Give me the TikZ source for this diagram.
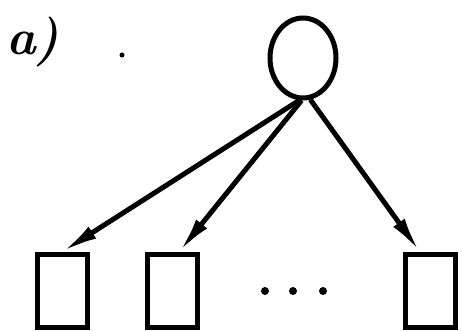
\documentclass[tikz,border=0pt]{standalone}
\usepackage{tikz}
\usetikzlibrary{arrows.meta,shapes.geometric}

\begin{document}
\begin{tikzpicture}[x=1pt, y=-1pt, line width=5pt, >={Latex[length=36pt,width=14pt]},
	root/.style={draw, ellipse, minimum width=66pt, minimum height=80pt, inner sep=0pt},
	leaf/.style={draw, rectangle, minimum width=50pt, minimum height=73pt, inner sep=0pt}]
	\useasboundingbox (0,0) rectangle (462,331);
	\node[font=\fontsize{50}{50}\selectfont\bfseries\itshape] (lbl) at (33,42) {a)};
	\fill (122,55) circle (2.5pt);
	\node[root] (top) at (303,58) {};
	\node[leaf] (l1) at (62,291) {};
	\node[leaf] (l2) at (172,291) {};
	\node[leaf] (ln) at (430,291) {};
	\foreach \x in {265,293,323} {\fill (\x,291) circle (4pt);}
	\draw[->] (top.-95) -- (l1.north);
	\draw[->] (top.-92) -- ([xshift=7pt]l2.north);
	\draw[->] (top.-80) -- ([xshift=-10pt]ln.north);
\end{tikzpicture}
\end{document}
